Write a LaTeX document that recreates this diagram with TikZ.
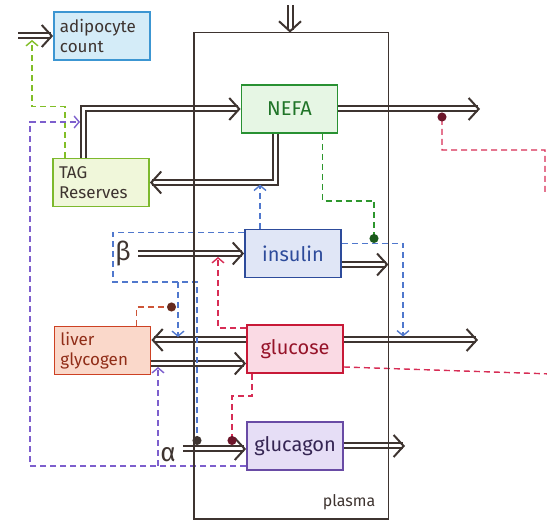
\documentclass[tikz,border=0pt]{standalone}
\usepackage{fontspec}
\setmainfont{Fira Sans}
\usetikzlibrary{arrows.meta}

\definecolor{ink}{RGB}{62,52,48}
\definecolor{adipoc}{RGB}{60,150,210}
\definecolor{adipof}{RGB}{212,236,248}
\definecolor{nefac}{RGB}{40,145,50}
\definecolor{nefaf}{RGB}{230,246,228}
\definecolor{tagc}{RGB}{125,185,45}
\definecolor{tagf}{RGB}{240,247,218}
\definecolor{insc}{RGB}{45,75,155}
\definecolor{insf}{RGB}{224,230,246}
\definecolor{livc}{RGB}{205,65,35}
\definecolor{livf}{RGB}{250,216,202}
\definecolor{gluc}{RGB}{200,25,55}
\definecolor{gluf}{RGB}{250,218,228}
\definecolor{gcgc}{RGB}{105,75,165}
\definecolor{gcgf}{RGB}{230,222,246}
\definecolor{sigred}{RGB}{215,45,85}
\definecolor{sigblue}{RGB}{80,120,205}
\definecolor{sigpurple}{RGB}{125,95,205}
\definecolor{siggreen}{RGB}{45,150,45}
\definecolor{siglime}{RGB}{130,190,40}
\definecolor{sigorange}{RGB}{205,85,55}

\begin{document}
\begin{tikzpicture}[x=0.5pt, y=-0.5pt,
    box/.style={draw, line width=0.9pt, minimum width=48pt, minimum height=24pt,
        inner sep=0pt, align=center, font=\fontsize{10}{12}\selectfont},
    tbox/.style={box, inner xsep=3pt, text width=42pt, align=left,
        font=\fontsize{8.5}{10}\selectfont},
    flow/.style={draw=ink, line width=1pt, double=white, double distance=1.5pt,
        -{Straight Barb[length=5pt, width=11pt, line width=1pt]}},
    sig/.style={line width=0.7pt, dash pattern=on 3pt off 2pt,
        -{Straight Barb[length=2.5pt, width=6pt]}},
    stop/.style={line width=0.7pt, dash pattern=on 3pt off 2pt,
        -{Circle[length=4.5pt]}}]

    \useasboundingbox (0,0) rectangle (547,523);

    % compartment
    \node[minimum width=97pt, minimum height=243pt] (plasma) at (291,276) {};
    \node[anchor=south east, text=ink, font=\fontsize{8}{9}\selectfont] (plasmalbl)
        at ([xshift=-3pt, yshift=1pt]plasma.south east) {plasma};

    % pools
    \node[tbox, draw=adipoc, fill=adipof, text=ink] (adipo) at (102,36) {adipocyte\\count};
    \node[box, draw=nefac, fill=nefaf, text=nefac!80!black] (nefa) at (289.5,109) {NEFA};
    \node[tbox, draw=tagc, fill=tagf, text=ink] (tag) at (101,182.5) {TAG\\Reserves};
    \node[box, draw=insc, fill=insf, text=insc] (insulin) at (293,253.5) {insulin};
    \node[tbox, draw=livc, fill=livf, text=livc!70!black] (liver) at (102.5,350.5) {liver\\glycogen};
    \node[box, draw=gluc, fill=gluf, text=gluc!75!black] (glucose) at (295,349) {glucose};
    \node[box, draw=gcgc, fill=gcgf, text=gcgc!50!black] (glucagon) at (295,446) {glucagon};

    % inputs
    \node[text=ink, font=\fontsize{13}{14}\selectfont] (beta) at (123,253.5) {β};
    \node[text=ink, font=\fontsize{13}{14}\selectfont] (alpha) at (168,455) {α};

    \coordinate (adipoin) at (18,36);
    \coordinate (plasmain) at (290,5);
    \coordinate (nefaout) at (480,109);
    \coordinate (glucout) at (478,340);
    \coordinate (gcgout) at (405,446);

    % mass flows
    \draw[flow] (adipoin) -- (adipo.west);
    \draw[flow] (plasmain) -- (plasmain |- plasma.north);
    \draw[flow] ([xshift=-9pt]tag.north) |- (nefa.west);
    \draw[flow] ([xshift=-7pt]nefa.south) |- (tag.east);
    \draw[flow] (nefa.east) -- (nefaout);
    \draw[flow] (beta.east) -- (beta.east -| insulin.west);
    \draw[flow] ([yshift=-5.5pt]insulin.east) -- ([yshift=-5.5pt]insulin.east -| plasma.east);
    \draw[flow] ([yshift=4.5pt]glucose.west) -- ([yshift=4.5pt]glucose.west -| liver.east);
    \draw[flow] ([yshift=-6.5pt]liver.east) -- ([yshift=-6.5pt]liver.east -| glucose.west);
    \draw[flow] ([yshift=4.5pt]glucose.east) -- (glucout);
    \draw[flow] (alpha.north east |- 0,449) -- (glucagon.west |- 0,449);
    \draw[flow] (glucagon.east) -- (gcgout);

    % control points on the flows
    \coordinate (adipotap) at (32,40);
    \coordinate (tagtap) at (80,122);
    \coordinate (livtap) at (158,367);
    \coordinate (livin) at (178,337);
    \coordinate (glutap) at (403,336.5);
    \coordinate (instap) at (374,243);
    \coordinate (bluetap) at (176,307);
    \coordinate (betatap) at (218,257);
    \coordinate (alphatap) at (197,445);
    \coordinate (alphatapb) at (232,445);
    \coordinate (nefatap) at (442,112.5);

    % signals
    \draw[sig, siglime] ([xshift=-18pt]tag.north) -- ++(0,-51) -| (adipotap);
    \draw[sig, sigpurple] ([yshift=-10pt]glucagon.west) -| ([xshift=-25pt]tagtap) -- (tagtap);
    \draw[sig, sigpurple] ([yshift=-10pt]glucagon.west -| livtap) -- (livtap);
    \draw[sig, sigblue] ([xshift=-16.5pt]insulin.north) -- ++(0,-44);
    \draw[sig, sigblue] ([yshift=5pt]insulin.east) -| (glutap);
    \draw[stop, sigblue, -{Circle[length=4.5pt, color=ink]}]
        ([yshift=10.5pt]insulin.west) -| (113,282) -| (alphatap);
    \draw[sig, sigblue] (livin |- 0,282) -- (livin);
    \draw[stop, siggreen, -{Circle[length=4.5pt, color=siggreen!60!black]}]
        ([xshift=16.5pt]nefa.south) -- ++(0,67) -| (instap);
    \draw[stop, sigorange, -{Circle[length=4.5pt, color=sigorange!50!black]}]
        ([xshift=17pt]liver.north) |- (bluetap);
    \draw[sig, sigred] ([yshift=-2pt]glucose.north west) -| (betatap);
    \draw[stop, sigred, -{Circle[length=4.5pt, color=sigred!50!black]}]
        ([xshift=-21.5pt]glucose.south) -- ++(0,22) -| (alphatapb);
    \draw[stop, sigred, -{Circle[length=4.5pt, color=sigred!50!black]}]
        ([yshift=-9pt]glucose.east) -- (552,374) (545,192) -- (545,150) -| (nefatap);

    % compartment wall
    \draw[ink, line width=0.9pt] (plasma.north west) rectangle (plasma.south east);

\end{tikzpicture}
\end{document}
